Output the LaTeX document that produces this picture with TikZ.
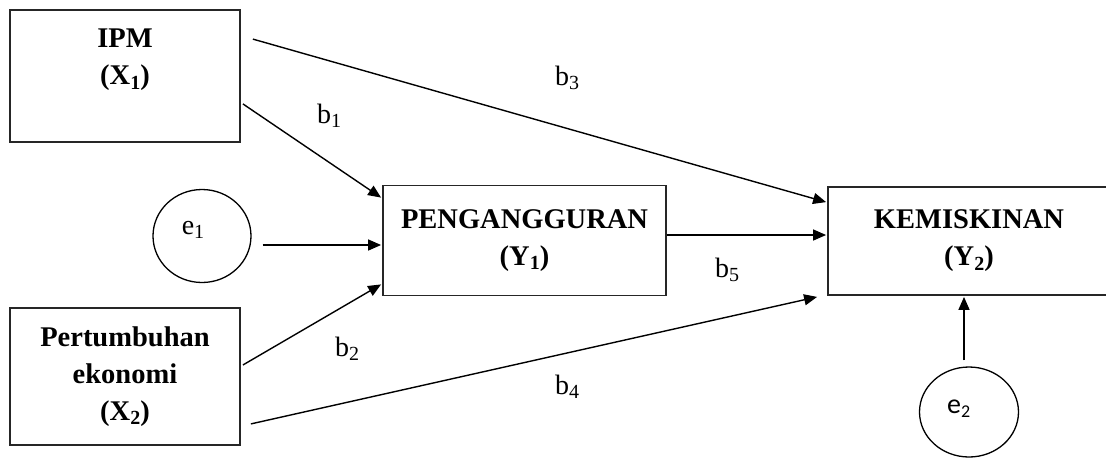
\documentclass[tikz,border=0pt]{standalone}
\usepackage{fontspec}
\setmainfont{Liberation Serif}
\newfontfamily\carl{Carlito}
\usetikzlibrary{arrows.meta,shapes.geometric}
% lowered, reduced digit used as an index
\newcommand\idx[1]{\raisebox{-0.16em}{\fontsize{20}{20}\selectfont #1}}
\begin{document}
\begin{tikzpicture}[x=1pt,y=-1pt,
  varbox/.style={draw=black!85,line width=1.8pt,rectangle,align=center,
    font=\fontsize{28.5}{37}\selectfont\bfseries},
  errcirc/.style={draw,line width=1.3pt,ellipse,inner sep=0pt},
  path/.style={line width=1.4pt,-{Triangle[length=13pt,width=11pt]}},
  coef/.style={font=\fontsize{28}{30}\selectfont,inner sep=0pt}]
\useasboundingbox (0,0) rectangle (1106,459);

% variables
\node[varbox,minimum width=230,minimum height=132] (ipm) at (125,76) {};
\node[font=\fontsize{28.5}{37}\selectfont\bfseries,align=center] (ipmt) at (125,60) {IPM\\(X\idx{1})};
\node[varbox,minimum width=230,minimum height=137] (pert) at (125,376.5) {Pertumbuhan\\ekonomi\\(X\idx{2})};
\node[varbox,minimum width=283,minimum height=110] (peng) at (524.5,240.5) {PENGANGGURAN\\(Y\idx{1})};
\node[varbox,minimum width=282,minimum height=108] (kem) at (969,241) {KEMISKINAN\\(Y\idx{2})};

% error terms
\node[errcirc,minimum width=98,minimum height=93] (e1) at (202,236) {};
\node[font=\fontsize{28}{30}\selectfont,inner sep=0pt] (e1t) at (193,230) {e\idx{1}};
\node[errcirc,minimum width=99,minimum height=90] (e2) at (969,412) {};
\node[font=\carl\fontsize{28}{30}\selectfont,inner sep=0pt] (e2t) at (959,409) {e\textsubscript{\fontsize{18}{18}\selectfont 2}};

% paths
\draw[path] ([shift={(2,-39)}]ipm.south east) -- ([shift={(-1,13)}]peng.north west);
\draw[path] ([shift={(12,30)}]ipm.north east) -- ([shift={(-1,16)}]kem.north west);
\draw[path] ([shift={(11,9)}]e1.east) -- ([shift={(-1,4.5)}]peng.west);
\draw[path] ([shift={(2,-11.5)}]pert.east) -- ([shift={(-1,-12)}]peng.south west);
\draw[path] ([shift={(10,-22)}]pert.south east) -- ([shift={(-10,1)}]kem.south west);
\draw[path] ([shift={(0,-5.5)}]peng.east) -- ([shift={(-1,-6)}]kem.west);
\draw[path] ([shift={(-5,-6)}]e2.north) -- ([shift={(-5,1)}]kem.south);

% coefficients
\node[coef] (b1) at (329,116) {b\idx{1}};
\node[coef] (b2) at (347,349) {b\idx{2}};
\node[coef] (b3) at (567,78) {b\idx{3}};
\node[coef] (b4) at (567,387) {b\idx{4}};
\node[coef] (b5) at (727,270) {b\idx{5}};
\end{tikzpicture}
\end{document}
